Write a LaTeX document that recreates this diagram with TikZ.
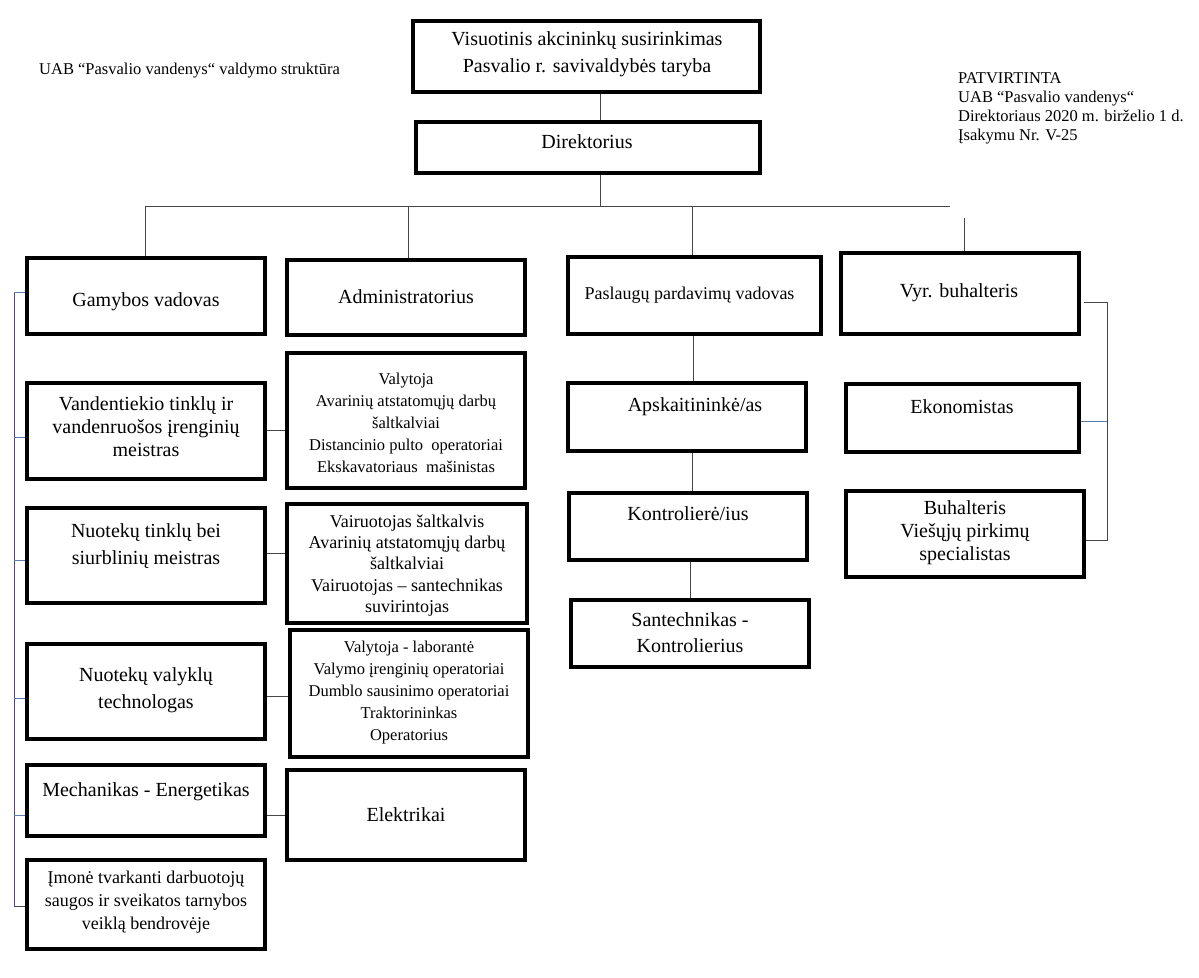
\documentclass[tikz,border=0pt]{standalone}
\usepackage{fontspec}
\setmainfont{Liberation Serif}
\definecolor{linkblue}{RGB}{90,125,170}
\definecolor{spinecol}{RGB}{85,75,100}
\definecolor{conncol}{RGB}{70,70,70}
\begin{document}
\begin{tikzpicture}[x=1pt,y=-1pt,
  box/.style 2 args={draw=black, line width=3.2pt, rectangle, inner sep=0pt, minimum width=#1pt, minimum height=#2pt},
  txt/.style={inner sep=0pt, align=center, font=\fontsize{20}{23}\selectfont},
  txtw/.style={inner sep=0pt, align=center, font=\fontsize{20}{27}\selectfont},
  lst/.style={inner sep=0pt, align=center, font=\fontsize{16.5}{22}\selectfont},
  lstb/.style={inner sep=0pt, align=center, font=\fontsize{18}{21.3}\selectfont},
  note/.style={inner sep=0pt, align=left, font=\fontsize{16.5}{19}\selectfont},
  conn/.style={draw=conncol, line width=1pt},
  bconn/.style={draw=linkblue, line width=1pt}]
\fill[white] (0,0) rectangle (1199,977);
\useasboundingbox (0,0) rectangle (1199,977);

% free texts
\node[note] (title) at (189.5,71) {UAB “Pasvalio vandenys“ valdymo struktūra};
\node[note, anchor=west] (pat) at (958,108.5) {PATVIRTINTA\\UAB “Pasvalio vandenys“\\Direktoriaus 2020 m. birželio 1 d.\\Įsakymu Nr. V-25};

% top
\node[box={347}{71}] (top) at (586.5,56.5) {};
\node[txtw] (topt) at (587,54.5) {Visuotinis akcininkų susirinkimas\\Pasvalio r. savivaldybės taryba};
\node[box={344}{51}] (dir) at (588,147.5) {};
\node[txt] (dirt) at (587,142) {Direktorius};

% row 1
\node[box={238}{76}] (gam) at (146,296) {};
\node[txt] (gamt) at (146,302) {Gamybos vadovas};
\node[box={238}{75}] (adm) at (406,297.5) {};
\node[txt] (admt) at (406,297) {Administratorius};
\node[box={253}{77}] (pas) at (694.5,295.5) {};
\node[txt, font=\fontsize{18}{21}\selectfont] (past) at (689.5,295) {Paslaugų pardavimų vadovas};
\node[box={238}{81}] (vyr) at (960,293.5) {};
\node[txt] (vyrt) at (959,293) {Vyr. buhalteris};

% row 2
\node[box={238}{96}] (van) at (146,431) {};
\node[txt] (vant) at (146,427) {Vandentiekio tinklų ir\\vandenruošos įrenginių\\meistras};
\node[box={238}{135}] (l1) at (406,420.5) {};
\node[lst] (l1t) at (406,423) {Valytoja\\Avarinių atstatomųjų darbų\\šaltkalviai\\Distancinio pulto\ \ operatoriai\\Ekskavatoriaus\ \ mašinistas};
\node[box={238}{68}] (aps) at (687,417) {};
\node[txt] (apst) at (695,407) {Apskaitininkė/as};
\node[box={233}{68}] (eko) at (962.5,418) {};
\node[txt] (ekot) at (962,407) {Ekonomistas};

% row 3
\node[box={238}{95}] (nuo) at (146,555.5) {};
\node[txtw] (nuot) at (146,546.5) {Nuotekų tinklų bei\\siurblinių meistras};
\node[box={240}{119}] (l2) at (407,563.5) {};
\node[lstb] (l2t) at (407,565.5) {Vairuotojas šaltkalvis\\Avarinių atstatomųjų darbų\\šaltkalviai\\Vairuotojas – santechnikas\\suvirintojas};
\node[box={238}{67}] (kon) at (688,526.5) {};
\node[txt] (kont) at (688,514) {Kontrolierė/ius};
\node[box={238}{86}] (buh) at (965,534) {};
\node[txt] (buht) at (965,533) {Buhalteris\\Viešųjų pirkimų\\specialistas};

% row 4
\node[box={238}{67}] (san) at (690,633.5) {};
\node[txt, font=\fontsize{20}{26}\selectfont] (sant) at (690,633) {Santechnikas -\\Kontrolierius};
\node[box={238}{95}] (val) at (146,691.5) {};
\node[txtw] (valt) at (146,690.5) {Nuotekų valyklų\\technologas};
\node[box={238}{127}] (l3) at (409,693.5) {};
\node[lst, font=\fontsize{16.5}{21.8}\selectfont] (l3t) at (409,692.5) {Valytoja - laborantė\\Valymo įrenginių operatoriai\\Dumblo sausinimo operatoriai\\Traktorininkas\\Operatorius};

% row 5
\node[box={238}{71}] (mech) at (146,800.5) {};
\node[txt] (mecht) at (146,792) {Mechanikas - Energetikas};
\node[box={238}{90}] (elek) at (406,815) {};
\node[txt] (elekt) at (406,815) {Elektrikai};
\node[box={238}{89}] (imo) at (146,904.5) {};
\node[txt, font=\fontsize{18}{23}\selectfont] (imot) at (146,902) {Įmonė tvarkanti darbuotojų\\saugos ir sveikatos tarnybos\\veiklą bendrovėje};

% top connectors
\coordinate (busL) at (145,206);
\coordinate (busR) at (950,206);
\draw[conn] (busL) -- (busR);
\draw[conn] ([xshift=14pt]top.south) -- ([xshift=14pt]top.south |- dir.north);
\draw[conn] ([xshift=12pt]dir.south) -- ([xshift=12pt]dir.south |- busL);
\draw[conn] (busL) -- (busL |- gam.north);
\draw[conn] ([xshift=2pt]adm.north |- busL) -- ([xshift=2pt]adm.north);
\draw[conn] ([xshift=-2.5pt]pas.north |- busL) -- ([xshift=-2.5pt]pas.north);
\coordinate (vdrop) at (964,218);
\draw[conn] (vdrop) -- (vdrop |- vyr.north);

% third column chain
\draw[conn] ([xshift=-1.5pt]pas.south) -- ([xshift=-1.5pt]pas.south |- aps.north);
\draw[conn] ([xshift=5pt]aps.south) -- ([xshift=5pt]aps.south |- kon.north);
\draw[conn] ([xshift=2pt]kon.south) -- ([xshift=2pt]kon.south |- san.north);

% left spine
\coordinate (sp1) at (14,292);
\coordinate (sp2) at (14,437);
\coordinate (sp3) at (14,560);
\coordinate (sp4) at (14,698);
\coordinate (sp5) at (14,815);
\coordinate (sp6) at (14,906);
\draw[draw=spinecol, line width=1pt] (sp1) -- (sp6);
\draw[bconn] (sp1) -- (sp1 -| gam.west);
\draw[bconn] (sp2) -- (sp2 -| van.west);
\draw[bconn] (sp3) -- (sp3 -| nuo.west);
\draw[bconn] (sp4) -- (sp4 -| val.west);
\draw[bconn] (sp5) -- (sp5 -| mech.west);
\draw[conn] (sp6) -- (sp6 -| imo.west);

% left to second column
\coordinate (c1) at (265,430);
\coordinate (c2) at (265,553);
\coordinate (c3) at (265,696);
\coordinate (c4) at (265,815);
\draw[conn] (van.east |- c1) -- (l1.west |- c1);
\draw[conn] (nuo.east |- c2) -- (l2.west |- c2);
\draw[conn] (val.east |- c3) -- (l3.west |- c3);
\draw[conn] (mech.east |- c4) -- (elek.west |- c4);

% right bracket
\coordinate (br1) at (1107,302);
\coordinate (br2) at (1107,540);
\coordinate (br3) at (1107,421);
\draw[conn] ([xshift=3pt]vyr.east |- br1) -- (br1) -- (br2) -- (buh.east |- br2);
\draw[bconn] (eko.east |- br3) -- (br3);
\end{tikzpicture}
\end{document}
